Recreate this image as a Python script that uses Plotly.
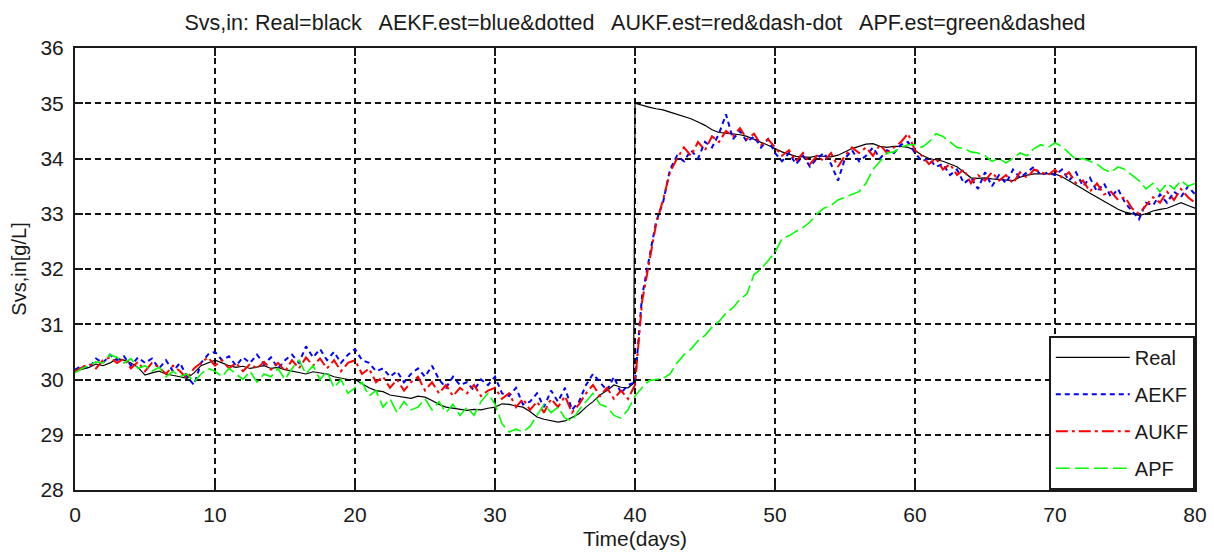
import numpy as np
import plotly.graph_objects as go

# Sampling grid for all series (days)
days = np.arange(0, 80.5, 0.5)

real = [
    30.15, 30.18, 30.22, 30.28, 30.25, 30.30, 30.38, 30.35, 30.30, 30.22,
    30.08, 30.12, 30.15, 30.10, 30.08, 30.05, 30.02, 30.12, 30.25, 30.30,
    30.35, 30.30, 30.25, 30.22, 30.24, 30.20, 30.22, 30.25, 30.20, 30.22,
    30.18, 30.15, 30.12, 30.10, 30.14, 30.12, 30.10, 30.05, 30.02, 30.00,
    30.00, 29.92, 29.85, 29.80, 29.78, 29.72, 29.70, 29.68, 29.66, 29.70,
    29.68, 29.62, 29.55, 29.50, 29.48, 29.45, 29.44, 29.46, 29.45, 29.48,
    29.50, 29.56, 29.55, 29.52, 29.50, 29.42, 29.32, 29.28, 29.25, 29.23,
    29.25, 29.32, 29.38, 29.50, 29.60, 29.72, 29.80, 29.90, 29.86, 29.85,
    35.00, 34.96, 34.93, 34.90, 34.88, 34.84, 34.80, 34.76, 34.72, 34.66,
    34.60, 34.52, 34.47, 34.46, 34.45, 34.43, 34.40, 34.35, 34.30, 34.24,
    34.18, 34.12, 34.08, 34.04, 34.03, 34.02, 34.05, 34.04, 34.03, 34.06,
    34.12, 34.18, 34.22, 34.26, 34.27, 34.22, 34.20, 34.22, 34.22, 34.20,
    34.15, 34.06, 34.00, 33.97, 33.95, 33.90, 33.85, 33.75, 33.65, 33.64,
    33.65, 33.63, 33.62, 33.60, 33.60, 33.66, 33.70, 33.72, 33.72, 33.73,
    33.72, 33.67, 33.60, 33.52, 33.45, 33.37, 33.30, 33.22, 33.15, 33.08,
    33.03, 33.00, 32.97, 33.00, 33.05, 33.08, 33.10, 33.15, 33.20, 33.15,
    33.10,
]
# the inflow step happens just before day 40
step_day = 39.9
step_before = 29.93

aekf = [
    30.18, 30.25, 30.20, 30.38, 30.30, 30.45, 30.35, 30.42, 30.25, 30.40,
    30.30, 30.38, 30.20, 30.35, 30.15, 30.30, 30.05, 29.90, 30.30, 30.45,
    30.50, 30.35, 30.42, 30.25, 30.40, 30.30, 30.45, 30.28, 30.40, 30.20,
    30.35, 30.45, 30.30, 30.60, 30.40, 30.55, 30.35, 30.50, 30.30, 30.45,
    30.55, 30.35, 30.30, 30.15, 30.20, 30.05, 30.15, 29.95, 30.10, 30.20,
    30.05, 30.25, 30.00, 29.85, 30.05, 29.90, 29.95, 29.80, 30.00, 29.90,
    30.05, 29.75, 29.70, 29.85, 29.55, 29.60, 29.75, 29.50, 29.80, 29.60,
    29.85, 29.45, 29.60, 29.90, 30.10, 29.95, 29.80, 30.05, 29.75, 29.90,
    29.95, 31.50, 32.20, 32.85, 33.20, 33.80, 34.05, 33.95, 34.15, 34.00,
    34.30, 34.20, 34.45, 34.80, 34.35, 34.50, 34.30, 34.40, 34.20, 34.35,
    34.10, 33.95, 34.10, 33.90, 34.05, 33.85, 34.00, 34.10, 33.90, 33.60,
    34.00, 34.15, 33.95, 34.05, 34.20, 34.00, 34.15, 34.10, 34.25, 34.30,
    34.10, 33.95, 34.00, 33.85, 33.90, 33.70, 33.80, 33.55, 33.65, 33.45,
    33.75, 33.50, 33.70, 33.55, 33.80, 33.65, 33.75, 33.85, 33.70, 33.75,
    33.70, 33.80, 33.60, 33.75, 33.50, 33.65, 33.40, 33.55, 33.30, 33.45,
    33.20, 33.05, 32.90, 33.20, 33.15, 33.35, 33.20, 33.40, 33.30, 33.50,
    33.35,
]

aukf = [
    30.15, 30.22, 30.28, 30.20, 30.35, 30.40, 30.30, 30.38, 30.20, 30.32,
    30.15, 30.30, 30.22, 30.10, 30.25, 30.15, 30.02, 30.20, 30.30, 30.40,
    30.25, 30.35, 30.20, 30.30, 30.15, 30.28, 30.20, 30.32, 30.18, 30.30,
    30.15, 30.35, 30.20, 30.40, 30.25, 30.38, 30.20, 30.35, 30.15, 30.30,
    30.35, 30.10, 30.20, 29.95, 30.05, 29.85, 30.00, 29.80, 29.95, 30.05,
    29.80, 29.95, 29.75, 29.90, 29.70, 29.85, 29.75, 29.90, 29.70, 29.80,
    29.85, 29.65, 29.75, 29.50, 29.65, 29.45, 29.60, 29.40, 29.65, 29.50,
    29.70, 29.40, 29.55, 29.75, 29.90, 29.70, 29.85, 29.65, 29.80, 29.65,
    29.90, 31.40, 32.10, 32.80, 33.25, 33.75, 34.00, 34.20, 34.05, 34.30,
    34.15, 34.40, 34.30, 34.50, 34.40, 34.55, 34.35, 34.45, 34.25, 34.35,
    34.20, 34.05, 34.15, 33.95, 34.10, 33.90, 34.05, 33.95, 34.10, 33.85,
    34.05, 34.20, 34.10, 34.20, 34.05, 34.25, 34.10, 34.20, 34.30, 34.45,
    34.15, 34.05, 33.90, 34.00, 33.80, 33.90, 33.70, 33.80, 33.55, 33.70,
    33.60, 33.75, 33.60, 33.70, 33.55, 33.75, 33.65, 33.80, 33.75, 33.70,
    33.80, 33.65, 33.75, 33.55, 33.60, 33.40, 33.55, 33.35, 33.40, 33.25,
    33.30, 33.10, 33.00, 33.15, 33.30, 33.20, 33.40, 33.25, 33.45, 33.30,
    33.20,
]

apf = [
    30.12, 30.20, 30.25, 30.32, 30.30, 30.45, 30.40, 30.30, 30.38, 30.20,
    30.25, 30.15, 30.22, 30.05, 30.15, 30.05, 30.10, 29.95, 30.10, 30.20,
    30.15, 30.05, 30.20, 30.10, 30.00, 30.15, 29.95, 30.10, 30.05, 30.20,
    30.00, 30.20, 30.35, 30.10, 30.25, 30.00, 30.15, 29.85, 30.00, 29.75,
    29.85, 29.95, 29.70, 29.80, 29.50, 29.65, 29.40, 29.60, 29.45, 29.50,
    29.65, 29.45, 29.60, 29.40, 29.55, 29.35, 29.50, 29.35, 29.60, 29.75,
    29.55, 29.20, 29.05, 29.10, 29.05, 29.15, 29.35, 29.55, 29.40, 29.50,
    29.30, 29.25, 29.45, 29.60, 29.75, 29.55, 29.50, 29.35, 29.30, 29.45,
    29.70, 29.85, 29.98, 30.00, 30.02, 30.10, 30.30, 30.45, 30.55, 30.70,
    30.80, 30.95, 31.05, 31.20, 31.30, 31.45, 31.55, 31.90, 32.00, 32.15,
    32.30, 32.55, 32.60, 32.68, 32.75, 32.85, 33.00, 33.10, 33.15, 33.25,
    33.30, 33.35, 33.40, 33.55, 33.80, 33.95, 34.10, 34.12, 34.20, 34.25,
    34.25, 34.20, 34.30, 34.45, 34.40, 34.30, 34.20, 34.18, 34.12, 34.10,
    34.05, 33.95, 34.00, 33.92, 34.00, 34.10, 34.05, 34.18, 34.25, 34.20,
    34.28, 34.22, 34.10, 33.98, 34.00, 33.95, 33.90, 33.80, 33.75, 33.85,
    33.80, 33.70, 33.60, 33.45, 33.55, 33.40, 33.55, 33.45, 33.60, 33.50,
    33.55,
]

x_ticks = [0, 10, 20, 30, 40, 50, 60, 70, 80]
y_ticks = [28, 29, 30, 31, 32, 33, 34, 35, 36]

for s in (real, aekf, aukf, apf):
    assert len(s) == len(days)

step_idx = int(np.searchsorted(days, 40.0))
real_days = np.insert(days, step_idx, step_day)
real_vals = np.insert(np.array(real), step_idx, step_before)

FONT = "Liberation Sans, Arial, sans-serif"
INK = "#1a1a1a"

fig = go.Figure()
fig.add_trace(go.Scatter(x=real_days, y=real_vals, mode="lines", name="Real",
                         legendgroup="a",
                         line=dict(color="black", width=1.2)))
fig.add_trace(go.Scatter(x=days, y=aekf, mode="lines", name="AEKF",
                         legendgroup="b",
                         line=dict(color="#0000ff", width=2, dash="5px,4px")))
fig.add_trace(go.Scatter(x=days, y=aukf, mode="lines", name="AUKF",
                         legendgroup="c",
                         line=dict(color="#ff0000", width=2, dash="12px,4px,3px,4px")))
fig.add_trace(go.Scatter(x=days, y=apf, mode="lines", name="APF",
                         legendgroup="d",
                         line=dict(color="#00ff00", width=1.6, dash="14px,5px")))

axis_common = dict(
    showline=True, linecolor=INK, linewidth=2, mirror="ticks",
    ticks="inside", ticklen=8, tickwidth=2, tickcolor=INK,
    showgrid=True, gridcolor="#111111", gridwidth=1.7, griddash="6px,4px",
    zeroline=False,
    tickfont=dict(family=FONT, size=21, color=INK),
)

fig.update_xaxes(range=[0, 80], tickvals=x_ticks, ticktext=[str(v) for v in x_ticks],
                 ticklabelstandoff=5,
                 title=dict(text="Time(days)", font=dict(family=FONT, size=21, color=INK),
                            standoff=6),
                 **axis_common)
fig.update_yaxes(range=[28, 36], tickvals=y_ticks, ticktext=[str(v) for v in y_ticks],
                 ticklabelstandoff=5,
                 title=dict(text="Svs,in[g/L]", font=dict(family=FONT, size=20, color=INK),
                            standoff=8),
                 **axis_common)

fig.update_layout(
    width=1214, height=558,
    margin=dict(l=75, r=19, t=48, b=68, autoexpand=False),
    paper_bgcolor="white", plot_bgcolor="white",
    title=dict(
        text="Svs,in: Real=black   AEKF.est=blue&dotted   AUKF.est=red&dash-dot   APF.est=green&dashed",
        x=0.5, xref="paper", y=1 - 22 / 558, yanchor="middle",
        font=dict(family=FONT, size=21.5, color=INK),
    ),
    showlegend=True,
    legend=dict(
        x=1.0, y=0.0, xanchor="right", yanchor="bottom",
        bgcolor="white", bordercolor=INK, borderwidth=1.8,
        font=dict(family=FONT, size=20, color=INK),
        itemwidth=74, tracegroupgap=8, traceorder="grouped",
    ),
)

fig.write_html("out.html")
